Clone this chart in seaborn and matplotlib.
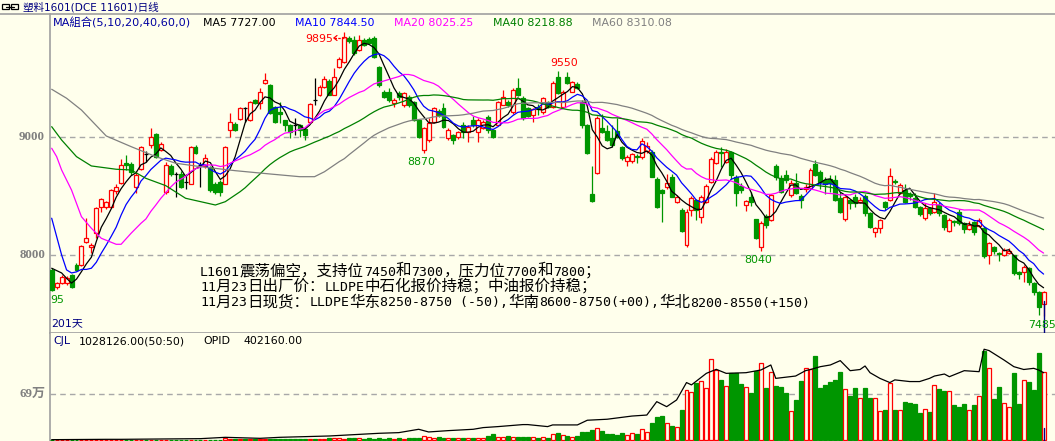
import re
import numpy as np
import pandas as pd
import matplotlib
matplotlib.use("Agg")
import matplotlib.pyplot as plt
from matplotlib.patches import Rectangle
from matplotlib.lines import Line2D
import seaborn as sns

sns.set_theme(style="white")
plt.rcParams["font.family"] = ["DejaVu Sans", "Noto Sans CJK SC"]

# ---------------- data ----------------
opens = [
    7876, 7729, 7766, 7763, 7833, 7918, 7918, 8113, 8070, 8190,
    8408, 8408, 8408, 8545, 8613, 8782, 8774, 8578, 8731, 8858,
    8934, 9028, 8892, 8536, 8757, 8689, 8689, 8621, 8604, 8917,
    8765, 8757, 8748, 8604, 8621, 8604, 9062, 9113, 9155, 9249,
    9147, 9317, 9291, 9461, 9444, 9257, 9215, 9147, 9104, 9104,
    9104, 9070, 9130, 9317, 9359, 9427, 9478, 9359, 9596, 9638,
    9844, 9825, 9740, 9825, 9830, 9839, 9595, 9384, 9384, 9291,
    9375, 9274, 9341, 9300, 9147, 8892, 8977, 9130, 9220, 9249,
    8994, 9020, 9000, 9104, 9045, 9147, 9045, 9079, 9172, 9062,
    9104, 9274, 9300, 9215, 9418, 9333, 9250, 9190, 9260, 9215,
    9300, 9257, 9511, 9257, 9511, 9384, 9450, 9300, 9104, 8520,
    8697, 9080, 9056, 8994, 9056, 8917, 8802, 8802, 8845, 8836,
    8887, 8878, 8647, 8553, 8578, 8666, 8454, 8384, 8087, 8384,
    8469, 8327, 8454, 8621, 8782, 8875, 8790, 8875, 8666, 8590,
    8427, 8497, 8308, 8070, 8333, 8299, 8757, 8655, 8680, 8510,
    8610, 8500, 8560, 8570, 8774, 8708, 8640, 8650, 8638, 8486,
    8308, 8470, 8490, 8450, 8503, 8359, 8197, 8231, 8454, 8469,
    8630, 8530, 8553, 8520, 8486, 8410, 8316, 8400, 8370, 8430,
    8341, 8209, 8290, 8370, 8270, 8220, 8284, 8250, 8230, 8003,
    8070, 8020, 8003, 8020, 8000, 7860, 7861, 7892, 7766, 7691,
    7587,
]
highs = [
    7890, 7775, 7830, 7820, 7845, 7935, 8085, 8314, 8100, 8410,
    8485, 8460, 8560, 8600, 8820, 8850, 8790, 8710, 8925, 8880,
    9076, 9035, 8960, 8790, 8775, 8708, 8710, 8690, 8930, 8935,
    8790, 8860, 8760, 8620, 8640, 8925, 9206, 9130, 9260, 9255,
    9310, 9325, 9420, 9542, 9450, 9265, 9302, 9150, 9110, 9160,
    9110, 9080, 9290, 9503, 9440, 9520, 9490, 9590, 9680, 9895,
    9860, 9860, 9870, 9840, 9850, 9860, 9600, 9400, 9420, 9330,
    9390, 9385, 9360, 9310, 9150, 9090, 9160, 9260, 9240, 9290,
    9075, 9030, 9055, 9130, 9100, 9180, 9160, 9150, 9190, 9070,
    9310, 9400, 9320, 9420, 9500, 9350, 9260, 9250, 9280, 9345,
    9310, 9480, 9560, 9400, 9550, 9480, 9470, 9320, 9110, 8760,
    9180, 9200, 9100, 9104, 9160, 8930, 8850, 8870, 8860, 8990,
    8960, 8890, 8660, 8560, 8690, 8690, 8510, 8400, 8390, 8500,
    8480, 8510, 8600, 8830, 8890, 8920, 8900, 8880, 8680, 8610,
    8470, 8540, 8310, 8290, 8350, 8520, 8770, 8680, 8720, 8640,
    8700, 8520, 8600, 8740, 8810, 8720, 8660, 8680, 8680, 8540,
    8500, 8480, 8520, 8490, 8520, 8370, 8240, 8310, 8460, 8740,
    8650, 8610, 8600, 8540, 8530, 8420, 8440, 8410, 8531, 8450,
    8350, 8320, 8300, 8390, 8280, 8290, 8290, 8320, 8250, 8110,
    8080, 8030, 8060, 8060, 8005, 7870, 7915, 7900, 7770, 7700,
    7700,
]
lows = [
    7695, 7715, 7755, 7745, 7720, 7870, 7910, 8105, 8020, 8150,
    8365, 8395, 8400, 8520, 8600, 8720, 8680, 8530, 8720, 8794,
    8910, 8825, 8885, 8520, 8670, 8497, 8570, 8560, 8600, 8860,
    8581, 8740, 8540, 8520, 8500, 8600, 9000, 9055, 9150, 9130,
    9140, 9285, 9240, 9455, 9200, 9125, 9121, 9050, 8990, 9020,
    9000, 8977, 9125, 9274, 9350, 9420, 9355, 9355, 9590, 9630,
    9800, 9700, 9735, 9770, 9790, 9670, 9430, 9330, 9300, 9260,
    9320, 9260, 9260, 9140, 8990, 8870, 8960, 9120, 9170, 9080,
    8975, 8940, 8985, 8990, 8960, 9090, 8960, 9070, 9040, 8990,
    9100, 9270, 9260, 9200, 9350, 9150, 9170, 9130, 9190, 9200,
    9250, 9250, 9370, 9250, 9450, 9380, 9410, 9080, 8860, 8455,
    8690, 9040, 8970, 8920, 8990, 8810, 8760, 8780, 8780, 8820,
    8870, 8660, 8400, 8280, 8560, 8490, 8440, 8200, 8070, 8330,
    8300, 8270, 8440, 8610, 8770, 8751, 8780, 8650, 8415, 8530,
    8378, 8420, 8140, 8040, 8230, 8290, 8640, 8530, 8610, 8490,
    8520, 8400, 8540, 8560, 8670, 8560, 8520, 8540, 8460, 8360,
    8290, 8390, 8410, 8440, 8330, 8230, 8155, 8190, 8380, 8460,
    8600, 8520, 8440, 8470, 8400, 8330, 8300, 8340, 8360, 8330,
    8210, 8200, 8250, 8260, 8190, 8210, 8170, 8240, 7980, 7929,
    8010, 7950, 7995, 8010, 7830, 7800, 7774, 7750, 7660, 7494,
    7485,
]
closes = [
    7706, 7763, 7816, 7805, 7729, 7876, 8079, 8147, 8085, 8400,
    8476, 8450, 8553, 8578, 8765, 8765, 8706, 8680, 8917, 8858,
    9000, 8833, 8943, 8765, 8689, 8689, 8578, 8621, 8917, 8866,
    8765, 8823, 8553, 8536, 8536, 8917, 9130, 9062, 9249, 9249,
    9300, 9291, 9385, 9487, 9206, 9130, 9198, 9104, 9045, 9104,
    9062, 9020, 9283, 9317, 9427, 9494, 9359, 9511, 9663, 9850,
    9816, 9712, 9825, 9780, 9800, 9683, 9443, 9341, 9316, 9316,
    9341, 9375, 9274, 9147, 9003, 9079, 9121, 9249, 9190, 9088,
    9062, 8977, 9045, 9045, 9088, 9104, 9147, 9130, 9062, 9003,
    9300, 9341, 9270, 9401, 9359, 9164, 9180, 9240, 9240, 9333,
    9260, 9460, 9375, 9384, 9460, 9469, 9420, 9104, 8866, 8460,
    9164, 9045, 8977, 8934, 9005, 8824, 8836, 8858, 8830, 8971,
    8926, 8666, 8410, 8527, 8613, 8497, 8497, 8209, 8367, 8489,
    8384, 8497, 8590, 8816, 8875, 8865, 8875, 8681, 8528, 8553,
    8463, 8454, 8147, 8273, 8257, 8511, 8666, 8539, 8640, 8612,
    8530, 8470, 8580, 8723, 8681, 8624, 8600, 8610, 8469, 8370,
    8497, 8440, 8440, 8470, 8359, 8240, 8231, 8299, 8409, 8672,
    8620, 8595, 8454, 8500, 8409, 8350, 8400, 8360, 8454, 8360,
    8240, 8299, 8280, 8274, 8220, 8260, 8200, 8300, 7990, 8104,
    8040, 8010, 8045, 8035, 7850, 7840, 7901, 7776, 7691, 7564,
    7691,
]
# volume (unit: 万 lots)
volume = [
    0.3, 0.2, 0.3, 0.2, 0.3, 0.2, 0.4, 0.3, 0.3, 0.4,
    0.4, 0.3, 0.4, 0.3, 0.5, 0.4, 0.3, 0.4, 0.5, 0.3,
    0.5, 0.4, 0.3, 0.5, 0.4, 0.3, 0.4, 0.5, 0.6, 0.4,
    0.5, 0.6, 0.5, 0.4, 0.6, 2.5, 1.0, 1.2, 1.0, 1.1,
    1.2, 1.0, 1.3, 1.1, 1.0, 1.2, 1.1, 2.0, 1.0, 1.1,
    1.2, 2.0, 1.3, 1.2, 1.4, 1.3, 2.5, 2.4, 2.5, 1.5,
    2.5, 2.4, 2.6, 1.5, 3.0, 2.2, 2.5, 2.0, 2.3, 2.1,
    2.4, 2.2, 2.6, 2.5, 2.8, 6.0, 4.0, 2.5, 4.5, 3.0,
    3.2, 2.6, 3.0, 3.3, 3.4, 3.2, 3.3, 2.8, 6.0, 8.5,
    4.0, 5.0, 6.0, 5.0, 4.5, 4.0, 5.0, 4.1, 3.0, 4.1,
    3.0, 9.1, 10.1, 7.1, 6.0, 4.1, 6.0, 12.1, 12.1, 15.1,
    17.7, 14.0, 9.1, 9.1, 7.6, 10.1, 7.1, 10.1, 9.1, 16.1,
    12.1, 25.2, 34.3, 36.2, 25.2, 21.1, 19.2, 45.3, 75.5, 72.5,
    86.5, 89.1, 78.5, 121.9, 105.7, 90.6, 81.5, 100.7, 101.6, 84.6,
    79.6, 71.5, 104.2, 115.8, 78.5, 102.2, 81.5, 79.6, 71.5, 43.8,
    60.4, 89.1, 108.2, 106.7, 126.8, 78.0, 83.1, 87.1, 90.6, 102.7,
    76.5, 66.4, 78.5, 62.9, 78.5, 62.9, 62.9, 43.8, 45.3, 86.6,
    45.3, 45.3, 57.4, 55.9, 54.4, 40.8, 46.3, 42.8, 83.1, 77.0,
    74.0, 73.5, 52.3, 49.3, 54.4, 45.3, 52.3, 66.4, 134.9, 108.2,
    61.9, 80.0, 55.9, 49.3, 101.2, 54.4, 90.6, 87.1, 75.5, 131.9,
    102.8,
]
# open interest, read at sparse days (unit: 万)
oi_day = [0, 11, 14, 30, 35, 42, 46, 51, 56, 66, 70, 74, 76, 80, 85, 87, 90, 95,
          96, 100, 101, 106, 108, 112, 117, 120, 122, 124, 126, 128, 129, 132,
          134, 136, 140, 143, 145, 146, 150, 152, 153, 155, 157, 159, 161, 163,
          164, 165, 167, 169, 170, 173, 175, 177, 178, 180, 181, 184, 187, 188,
          189, 192, 194, 196, 198, 199, 200]
oi_val = [0.2, 0.4, 0.4, 0.8, 1.6, 1.0, 1.6, 2.0, 2.4, 4.0, 4.4, 6.4, 4.8, 5.6,
          6.4, 7.4, 8.0, 9.2, 9.2, 8.0, 9.0, 9.0, 11.8, 12.4, 14.3, 14.9, 22.9,
          19.9, 23.9, 34.3, 32.9, 39.8, 42.2, 39.8, 40.2, 41.8, 44.8, 36.8, 38.2,
          41.4, 42.1, 43.8, 44.8, 47.4, 41.4, 42.1, 44.2, 40.2, 36.8, 34.3, 35.9,
          34.9, 34.9, 36.8, 38.2, 39.4, 37.8, 41.4, 40.8, 54.2, 53.4, 47.8, 43.8,
          42.1, 42.8, 41.8, 40.2]
# moving-average values before enough bars exist
ma5_head_day = [0, 1, 2, 3]
ma5_head_val = [7890, 7870, 7850, 7805]
ma10_head_day = [0, 1, 2, 3, 4, 5, 6, 7, 8]
ma10_head_val = [8314, 8158, 8003, 7876, 7850, 7859, 7880, 7880, 7890]
ma20_head_day = [0, 1, 2, 4, 6, 8, 10, 13, 14, 16, 18]
ma20_head_val = [8907, 8836, 8723, 8553, 8327, 8229, 8144, 8093, 8093, 8186, 8271]
ma40_head_day = [0, 2, 5, 8, 13, 16, 19, 23, 27, 33, 35, 38]
ma40_head_val = [9090, 8977, 8836, 8757, 8729, 8723, 8652, 8590, 8483, 8426, 8454, 8539]
ma60_head_day = [0, 3, 6, 11, 16, 21, 25, 30, 37, 44, 50, 53, 55, 58]
ma60_head_val = [9407, 9331, 9231, 9011, 8921, 8836, 8780, 8751, 8717, 8689, 8666, 8666, 8708, 8794]

ma_periods = [5, 10, 20, 40, 60]
ma_colors = ["#000000", "#0000FF", "#FF00FF", "#008000", "#808080"]
ma_labels = ["MA5 7727.00", "MA10 7844.50", "MA20 8025.25", "MA40 8218.88", "MA60 8310.08"]
ma_heads = [(ma5_head_day, ma5_head_val), (ma10_head_day, ma10_head_val),
            (ma20_head_day, ma20_head_val), (ma40_head_day, ma40_head_val),
            (ma60_head_day, ma60_head_val)]

note_lines = [
    "L1601震荡偏空，支持位7450和7300，压力位7700和7800；",
    "11月23日出厂价：LLDPE中石化报价持稳；中油报价持稳；",
    "11月23日现货：LLDPE华东8250-8750 (-50),华南8600-8750(+00),华北8200-8550(+150)",
]

# ---------------- figure ----------------
BG = "#FFFFEC"
RED = "#FF0000"
GREEN = "#009600"
W, H = 1055, 441
fig = plt.figure(figsize=(W / 100, H / 100), dpi=100, facecolor=BG)


def fx(x):
    return x / W


def fy(y):
    return 1 - y / H


ax = fig.add_axes([fx(50), fy(333), fx(1055) - fx(50), fy(14) - fy(333)], facecolor=BG)
axv = fig.add_axes([fx(50), 0, fx(1055) - fx(50), fy(333)], facecolor=BG, sharex=ax)

n = len(closes)
days = np.arange(n)
bw = 0.8

# candles
for i in days:
    o, h, l, c = opens[i], highs[i], lows[i], closes[i]
    col = RED if c > o else (GREEN if c < o else "black")
    ax.vlines(i, l, h, color=col, lw=0.9, zorder=2)
    if c > o:
        ax.add_patch(Rectangle((i - bw / 2, o), bw, c - o, facecolor=BG, edgecolor=RED, lw=0.9, zorder=3))
    elif c < o:
        ax.add_patch(Rectangle((i - bw / 2, c), bw, o - c, facecolor=GREEN, edgecolor=GREEN, lw=0.9, zorder=3))
    else:
        ax.hlines(c, i - bw / 2, i + bw / 2, color="black", lw=0.9, zorder=3)

# moving averages
cs = pd.Series(closes, dtype=float)
for p, colr, (hd, hv) in zip(ma_periods, ma_colors, ma_heads):
    ma = cs.rolling(p).mean()
    xs = list(hd) + list(range(p - 1, n))
    ys = list(hv) + list(ma.iloc[p - 1:])
    df = pd.DataFrame({"day": xs, "ma": ys})
    sns.lineplot(data=df, x="day", y="ma", ax=ax, color=colr, lw=0.9,
                 estimator=None, sort=False, zorder=4)

for lvl in (9000, 8000):
    ax.axhline(lvl, color="#A8A8A8", lw=1, ls=(0, (4, 3)), zorder=1)

ax.plot([200, 200], [7610, 7300], color="#000080", lw=1, zorder=5)

ax.set_xlim(-0.34, 202.3)
ax.set_ylim(7341, 10045)

# volume
vcols = [RED if closes[i] > opens[i] else GREEN for i in days]
vface = [BG if closes[i] > opens[i] else GREEN for i in days]
axv.bar(days, volume, width=0.8, color=vface, edgecolor=vcols, linewidth=0.9, zorder=3)
axv.axhline(69, color="#A8A8A8", lw=1, ls=(0, (4, 3)), zorder=1)
axv.plot([200, 200], [-2, 18], color="#000080", lw=1, zorder=5)
axv.set_ylim(-1.51, 161.6)

axo = axv.twinx()
sns.lineplot(x=oi_day, y=oi_val, ax=axo, color="black", lw=0.9, estimator=None, sort=False)
axo.set_ylim(-0.6, 63.9)

for a in (ax, axv, axo):
    a.set_xticks([])
    a.set_yticks([])
    a.set_xlabel("")
    a.set_ylabel("")
    for s in a.spines.values():
        s.set_visible(False)
for a in (ax, axv):
    a.spines["left"].set_visible(True)
    a.spines["left"].set_color("#A0A0A0")
    a.spines["left"].set_linewidth(1.2)
ax.spines["bottom"].set_visible(True)
ax.spines["bottom"].set_color("#A0A0A0")
ax.spines["bottom"].set_linewidth(1.2)

fig.add_artist(Line2D([0, 1], [fy(14), fy(14)], transform=fig.transFigure, color="#A0A0A0", lw=1.2))

# ---------------- texts ----------------
# link icon + title
fig.add_artist(Rectangle((fx(2), fy(9)), fx(7), 5 / H, transform=fig.transFigure, fill=False, edgecolor="black", lw=0.9))
fig.add_artist(Rectangle((fx(11), fy(9)), fx(7), 5 / H, transform=fig.transFigure, fill=False, edgecolor="black", lw=0.9))
fig.add_artist(Line2D([fx(6), fx(14)], [fy(6.5), fy(6.5)], transform=fig.transFigure, color="black", lw=0.9))
fig.text(fx(23), fy(7), "塑料1601(DCE 11601)日线", color="#000080", fontsize=7.6, va="center", ha="left")

fig.text(fx(53), fy(22.5), "MA組合(5,10,20,40,60,0)", color="#0000A0", fontsize=8.1, va="center")
for xp, lab, colr in zip([203, 295, 394, 492.7, 591.7], ma_labels, ma_colors):
    fig.text(fx(xp), fy(22.5), lab, color=colr, fontsize=7.9, va="center")

fig.text(fx(53), fy(341.5), "CJL", color="#000080", fontsize=7.9, va="center")
fig.text(fx(79), fy(341.5), "1028126.00(50:50)", color="black", fontsize=7.9, va="center")
fig.text(fx(203), fy(341.5), "OPID", color="black", fontsize=7.9, va="center")
fig.text(fx(243), fy(341.5), "402160.00", color="black", fontsize=7.9, va="center")

axis_font = dict(family="Liberation Serif", fontweight="bold", color="#808080", fontsize=9.4)
fig.text(fx(45), fy(137.3), "9000", ha="right", va="center", **axis_font)
fig.text(fx(45), fy(255.3), "8000", ha="right", va="center", **axis_font)
fig.text(fx(45), fy(394.3), "69万", ha="right", va="center",
         family=["Liberation Serif", "Noto Sans CJK SC"], fontweight="bold", color="#808080", fontsize=9.4)

fig.text(fx(333), fy(39), "9895", color=RED, fontsize=7.9, ha="right", va="center")
fig.add_artist(Line2D([fx(334), fx(347)], [fy(38), fy(38)], transform=fig.transFigure, color=RED, lw=0.9, ls=(0, (2, 1))))
fig.add_artist(Line2D([fx(334), fx(337)], [fy(38), fy(35.5)], transform=fig.transFigure, color=RED, lw=0.9))
fig.add_artist(Line2D([fx(334), fx(337)], [fy(38), fy(40.5)], transform=fig.transFigure, color=RED, lw=0.9))
fig.text(fx(564.5), fy(63.5), "9550", color=RED, fontsize=7.9, ha="center", va="center")
fig.text(fx(421), fy(161.7), "8870", color=GREEN, fontsize=7.9, ha="center", va="center")
fig.text(fx(758), fy(260), "8040", color=GREEN, fontsize=7.9, ha="center", va="center")
fig.text(fx(1028), fy(325.5), "7485", color=GREEN, fontsize=7.9, ha="left", va="center")
fig.text(fx(50), fy(300), "95", color=GREEN, fontsize=7.9, ha="left", va="center")
fig.text(fx(51), fy(322.7), "201天", color="#000080", fontsize=7.9, ha="left", va="center")

# commentary block: half-width ASCII in a monospace face, full-width CJK cells
HALF, FULL = 8.0, 15.5
for base_y, line in zip([275.5, 291, 306.5], note_lines):
    xpos = 200.0
    for run in re.findall(r"[\x20-\x7e]+|[^\x20-\x7e]+", line):
        if run[0] <= "\x7e":
            fig.text(fx(xpos), fy(base_y), run, color="black", family="DejaVu Sans Mono",
                     fontsize=HALF / 0.602 * 0.72, ha="left", va="baseline")
            xpos += HALF * len(run)
        else:
            fig.text(fx(xpos), fy(base_y), run, color="black", family="Noto Sans CJK SC",
                     fontsize=FULL * 0.72, ha="left", va="baseline")
            xpos += FULL * len(run)

fig.savefig("out.png", dpi=100, facecolor=BG)
